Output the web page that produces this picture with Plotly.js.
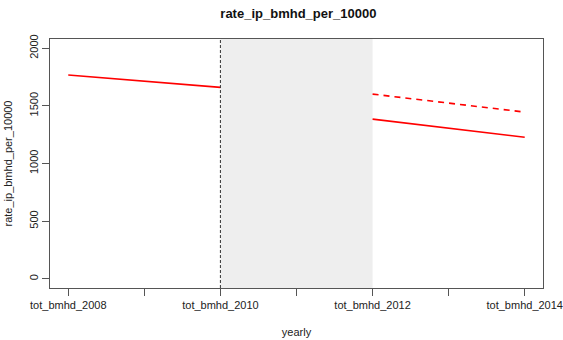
<!DOCTYPE html>
<html><head><meta charset="utf-8">
<script src="https://cdn.plot.ly/plotly-3.0.1.min.js"></script>
<style>body{margin:0;padding:0;background:#fff}#chart{width:563px;height:340px}</style>
</head><body><div id="chart"></div>
<script>
var positions = [1, 2, 3, 4, 5, 6, 7];
var tickLabels = ['tot_bmhd_2008', '', 'tot_bmhd_2010', '', 'tot_bmhd_2012', '', 'tot_bmhd_2014'];
var solidX1 = [1, 3];
var solidY1 = [1768, 1660];
var solidX2 = [5, 7];
var solidY2 = [1385, 1228];
var dashedX = [5, 7];
var dashedY = [1602, 1446];
var shadeStart = 3, shadeEnd = 5, cutLine = 3;

var lineStyle = {color: '#ff0000', width: 1.6};
var traces = [
  {x: solidX1, y: solidY1, mode: 'lines', line: lineStyle, hoverinfo: 'skip'},
  {x: solidX2, y: solidY2, mode: 'lines', line: lineStyle, hoverinfo: 'skip'},
  {x: dashedX, y: dashedY, mode: 'lines', line: {color: '#ff0000', width: 1.6, dash: '6px,5px'}, hoverinfo: 'skip'}
];
var font = {family: 'Liberation Sans, Arial, sans-serif', size: 11, color: '#222'};
var layout = {
  width: 563, height: 340,
  margin: {l: 50, r: 20, t: 39, b: 52, pad: 0},
  showlegend: false,
  paper_bgcolor: '#fff', plot_bgcolor: '#fff',
  font: font,
  title: {text: '<b>rate_ip_bmhd_per_10000</b>', x: 0.53, xanchor: 'center', y: 0.96, yanchor: 'middle', font: {family: 'Liberation Sans, Arial, sans-serif', size: 13, color: '#111'}},
  xaxis: {
    range: [0.76, 7.24], tickmode: 'array', tickvals: positions, ticktext: tickLabels,
    showgrid: false, zeroline: false, showline: true, mirror: true, linecolor: '#555', linewidth: 1,
    ticks: 'outside', ticklen: 7, tickcolor: '#555', tickfont: font,
    title: {text: 'yearly', font: font, standoff: 18}
  },
  yaxis: {
    range: [-80, 2080], tickmode: 'array', tickvals: [0, 500, 1000, 1500, 2000],
    tickangle: -90, showgrid: false, zeroline: false, showline: true, mirror: true, linecolor: '#555', linewidth: 1,
    ticks: 'outside', ticklen: 7, tickcolor: '#555', tickfont: font,
    title: {text: 'rate_ip_bmhd_per_10000', font: font, standoff: 12}
  },
  shapes: [
    {type: 'rect', xref: 'x', yref: 'paper', x0: shadeStart, x1: shadeEnd, y0: 0, y1: 1, fillcolor: '#eeeeee', line: {width: 0}, layer: 'below'},
    {type: 'line', xref: 'x', yref: 'paper', x0: cutLine, x1: cutLine, y0: 0, y1: 1, line: {color: '#333', width: 1, dash: '3px,2px'}}
  ]
};
Plotly.newPlot('chart', traces, layout, {staticPlot: true, displayModeBar: false});
</script></body></html>
